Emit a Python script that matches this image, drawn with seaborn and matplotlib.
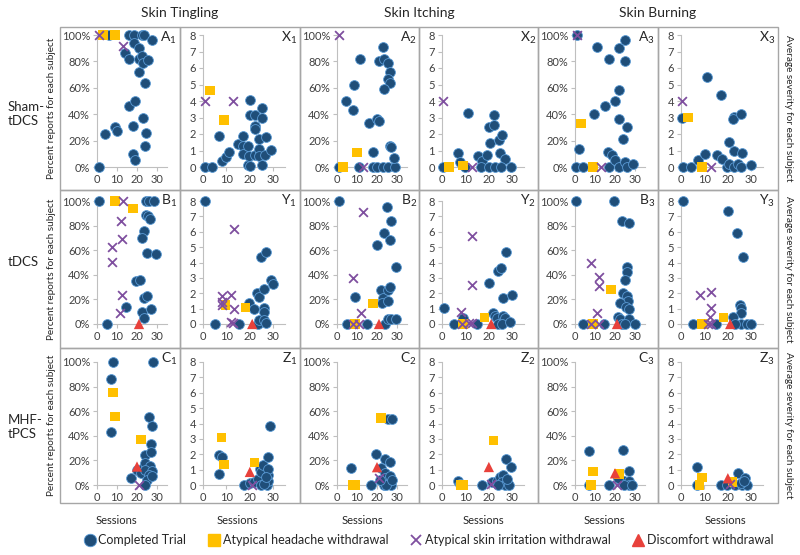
import numpy as np
import pandas as pd
import seaborn as sns
import matplotlib.pyplot as plt
from matplotlib.patches import Rectangle
from matplotlib.lines import Line2D

# values: (session, value) per subject
# A/B/C = percent reports, X/Y/Z = average severity
A1_done = [(1, 0), (4, 25), (6, 100), (9, 30), (10, 27), (14, 86), (16, 82), (16, 46), (16, 100),
           (18.6, 100), (18.6, 94), (18, 31), (18, 10), (19, 5), (19, 50), (21, 90), (21, 82), (21, 72),
           (22.5, 100), (23.5, 100), (22.6, 84), (23, 79), (23, 37), (24, 64), (24, 16), (24.6, 26),
           (25.7, 81), (27.6, 96)]
A1_head = [(3, 100), (9, 100)]
A1_skin = [(1, 100), (13, 92)]
A1_disc = []

X1_done = [(1, 0), (4, 0), (7, 1.85), (8, 0.35), (10, 0.6), (11, 0.9), (15, 1.4), (17, 1.9), (17, 1.25),
           (17, 0.8), (19, 1.25), (19, 0.1), (20, 0.05), (19.8, 0.65), (20, 4.05), (20, 3.15), (22, 3.15),
           (22, 2.5), (22, 2.3), (22, 0.7), (24, 1.7), (24, 1.1), (24, 0.65), (25, 3.55), (25, 2.95),
           (25, 0.1), (26.4, 0.75), (27, 1.8), (29, 1.05)]
X1_head = [(3, 4.65), (9, 2.85)]
X1_skin = [(1, 4), (13, 4)]
X1_disc = []

A2_done = [(1, 0), (11, 0), (18, 0), (20, 0), (23, 0), (25.5, 0), (29, 0), (4.3, 50), (7.8, 43), (8.6, 62),
           (11.7, 82), (16, 33), (19.8, 36.5), (21, 35), (23, 91), (21, 80), (23.3, 82), (25.5, 79),
           (26.4, 72), (25.3, 67), (26.4, 64), (23.3, 59), (18, 11), (26.4, 16), (27.2, 15), (28.3, 7)]
A2_head = [(3, 0), (10, 11)]
A2_skin = [(1, 100), (13, 0)]
A2_disc = []

X2_done = [(0.5, 0), (6.8, 0.85), (7.6, 0.28), (9.7, 0), (11, 3.3), (15.2, 0.65), (17, 0.35), (16.5, 0),
           (19.2, 0.73), (20, 2.4), (20.3, 1.45), (20.2, 0), (22.4, 3.15), (22.4, 2.55), (22.5, 0),
           (24.5, 1.65), (25.7, 1.95), (24.6, 0.85), (26.7, 0.5), (25.3, 0), (29.6, 0)]
X2_head = [(3, 0), (9, 0.1)]
X2_skin = [(0.5, 4), (13, 0)]
X2_disc = []

A3_done = [(1, 100), (0.5, 0), (3.8, 0), (2.2, 14), (9.7, 40), (10.8, 91), (15, 46), (17.2, 82), (16.5, 11),
           (18.5, 9), (17.2, 0), (20, 50), (20, 5.5), (22.2, 58.5), (22, 90), (22.2, 36), (22.2, 0),
           (24.2, 21), (25.2, 96), (25.2, 80), (25.2, 3.5), (26.2, 30), (26.2, 0), (29.2, 2.5)]
A3_head = [(3, 33), (9, 0)]
A3_skin = [(1, 100), (13, 0)]
A3_disc = []

X3_done = [(0.3, 3), (0.7, 0), (4.2, 0), (7.2, 0.45), (10.3, 0.8), (11.3, 5.45), (15.4, 0.73), (17.2, 4.35),
           (17.5, 0.5), (19.7, 0), (20.4, 1.5), (20.4, 0.2), (22.5, 3.05), (22.2, 2.93), (22.5, 0.95),
           (22.5, 0), (24.4, 0.2), (25.4, 3.2), (26.1, 0.85), (25.4, 0), (29.7, 0.1)]
X3_head = [(3, 3), (9, 0)]
X3_skin = [(0.5, 4), (13, 0)]
X3_disc = []

B1_done = [(1, 100), (5, 0), (14.7, 14), (19.4, 35), (21.3, 36), (23.4, 76), (22.7, 70), (24.4, 100),
           (26, 100), (28.6, 100), (24.4, 89), (25.7, 88), (26.5, 85), (25.1, 58), (29.3, 57),
           (23.6, 21.4), (25.1, 23), (22.3, 10), (23.6, 5), (26.9, 12)]
B1_head = [(9, 100), (18, 94)]
B1_skin = [(13, 100), (12.2, 83.5), (12.6, 69), (7.7, 62.7), (7.7, 50.3), (12.6, 23.5), (11.5, 9.2)]
B1_disc = [(21, 0)]

Y1_done = [(1, 8), (5, 0), (15.3, 0), (19.8, 1.35), (21.9, 0.96), (22.9, 2.0), (24, 1.74), (24.8, 4.34),
           (26.9, 4.66), (25.9, 2.27), (23.6, 0), (24, 0.25), (25.9, 1.02), (25.9, 0.8), (26.2, 0.25),
           (26.9, 0.05), (29, 2.88), (30, 2.61)]
Y1_head = [(9.5, 1.24), (18, 1.05)]
Y1_skin = [(8.2, 1.79), (8.2, 1.24), (8.2, 1.45), (12, 1.9), (13.4, 6.15), (13.4, 1.0), (12, 0.15), (13, 0.08)]
Y1_disc = [(21, 0)]

B2_done = [(1, 100), (5, 0), (8.9, 22), (15, 0), (20, 64), (24.8, 95), (22.2, 27.5), (23, 21), (22.7, 17.3),
           (23.8, 0), (25.5, 3.8), (23.5, 74), (26.4, 68.6), (26.9, 84), (25.5, 27.5), (26.4, 29.7),
           (25.5, 19), (29.4, 46), (27.2, 3.8), (29.7, 3.8)]
B2_head = [(9, 0), (18, 16.5)]
B2_skin = [(13, 91), (8, 37), (12, 9), (11, 0), (8, 0)]
B2_disc = [(21, 0)]

Y2_done = [(1, 1.03), (5, 0), (8.9, 0.4), (15, 0), (20, 2.68), (24, 3.43), (25.3, 3.63), (27.3, 4.66),
           (26, 1.67), (30, 1.91), (21.8, 0.7), (22.6, 0.55), (23.3, 0.4), (24, 0), (26.2, 0.55),
           (27, 0.4), (25.6, 0), (29, 0.1)]
Y2_head = [(9, 0), (18, 0.4)]
Y2_skin = [(8, 0.8), (13, 5.7), (13, 2.55), (8.5, 0), (11.4, 0.05), (13, 0.05)]
Y2_disc = [(21, 0)]

B3_done = [(0.5, 100), (4, 0), (14.7, 0), (19.6, 100), (23.3, 84), (27, 82), (25.9, 46.6), (26, 42.5),
           (24.8, 36), (24.2, 25), (26, 23), (26.6, 18.7), (22.6, 17.3), (25.4, 14), (26.9, 12),
           (21.5, 5.7), (22.6, 3.8), (23.7, 0), (26.9, 4.3), (30, 0), (25.1, 0)]
B3_head = [(9, 0), (18, 28)]
B3_skin = [(8, 50), (12, 38.5), (12, 31), (11, 8.7), (8, 0), (12, 0)]
B3_disc = [(21, 0)]

Y3_done = [(1, 8), (5, 0), (15, 0), (20, 7.37), (23.7, 5.95), (26.6, 4.37), (25, 1.22), (25.7, 1.05),
           (25.7, 0.74), (22.4, 0.48), (25.8, 0), (23.2, 0), (28.2, 0), (30, 0)]
Y3_head = [(9, 0), (18, 0.44)]
Y3_skin = [(8, 1.86), (12.9, 2.05), (12.9, 1.03), (12.2, 0.48), (11.4, 0), (12.9, 0)]
Y3_disc = [(21, 0)]

C1_done = [(8, 100), (28, 100), (7, 86), (7, 43), (17, 6), (20, 12), (23, 14), (22, 10), (24, 24.7), (26, 55),
           (27.5, 48), (27.2, 33.4), (27, 26.6), (24.2, 18), (26.7, 15.2), (24.2, 12.5), (27.5, 11.7),
           (25.8, 8), (25, 4.3), (24, 0), (27.5, 7)]
C1_head = [(8, 75), (9, 56), (22, 37)]
C1_skin = [(21, 0)]
C1_disc = [(20, 15)]

Z1_done = [(7, 1.97), (8.3, 1.84), (7, 0.69), (17.4, 0), (20.2, 0.13), (21.9, 0.18), (23.5, 0.4), (24.2, 1.06),
           (24.8, 0.84), (25.5, 1.28), (24.8, 0), (27.4, 0), (27.7, 0.29), (27.8, 0.62), (27.8, 1.06),
           (27.7, 1.8), (28.7, 3.83), (26.1, 0.07), (26.8, 0.5)]
Z1_head = [(8, 3.1), (9, 1.33), (22, 1.46)]
Z1_skin = [(21, 0)]
Z1_disc = [(20, 0.85)]

C2_done = [(7, 14), (17, 0), (19.5, 25.5), (25.5, 54), (27.5, 53.7), (23.8, 20.8), (26.7, 18.6), (22.2, 14),
           (24.2, 10), (23.8, 5.8), (26.7, 7.7), (27, 0), (23.3, 0), (24.7, 0), (21.7, 4.4), (27.5, 3.8)]
C2_head = [(8, 0), (9, 0), (22, 54.5)]
C2_skin = [(21, 6)]
C2_disc = [(20, 14.5)]

Z2_done = [(7, 0.29), (7.5, 0.07), (17, 0), (21.4, 0.2), (23.4, 0.29), (24.8, 0.55), (26, 0.62), (27.5, 1.72),
           (29.5, 1.17), (25.4, 0.18), (26.8, 0), (28.8, 0), (27.8, 0.4), (24, 0)]
Z2_head = [(8, 0), (9, 0), (22, 2.9)]
Z2_skin = [(21, 0.05)]
Z2_disc = [(20, 1.17)]

C3_done = [(7, 28), (7, 0), (17, 0), (23.9, 28.5), (26.9, 11), (22.8, 4), (24.7, 3.3), (26.9, 3.3),
           (27.2, 0), (24.7, 0), (21.7, 5.4), (28.3, 0)]
C3_head = [(9, 11), (8, 0), (22, 9)]
C3_skin = [(21, 0)]
C3_disc = [(20, 9.5)]

Z3_done = [(7, 1.14), (7, 0), (17, 0), (19.7, 0), (24.5, 0.81), (27.4, 0.44), (22.9, 0), (26.1, 0),
           (28.1, 0), (25.5, 0.15), (26.8, 0.26)]
Z3_head = [(9, 0.48), (8, 0), (22, 0.2)]
Z3_skin = [(21, 0.05)]
Z3_disc = [(20, 0.44)]

symptoms = ["Skin Tingling", "Skin Itching", "Skin Burning"]
conditions = ["Sham-\ntDCS", "tDCS", "MHF-\ntPCS"]
series_names = ["Completed Trial", "Atypical headache withdrawal",
                "Atypical skin irritation withdrawal", "Discomfort withdrawal"]
pct_ticks = [0, 20, 40, 60, 80, 100]
sev_ticks = [0, 1, 2, 3, 4, 5, 6, 7, 8]
x_ticks = [0, 10, 20, 30]

panel_grid = [["A1", "X1", "A2", "X2", "A3", "X3"],
              ["B1", "Y1", "B2", "Y2", "B3", "Y3"],
              ["C1", "Z1", "C2", "Z2", "C3", "Z3"]]

# style of each series, in Excel drawing order
styles = [
    dict(marker="o", color="#1f4e79", edgecolor="#5b9bd5", linewidth=0.6, s=50),
    dict(marker="s", color="#ffc000", edgecolor="none", s=44),
    dict(marker="x", color="#7f4f9f", linewidth=1.3, s=40),
    dict(marker="^", color="#e8413b", edgecolor="none", s=55),
]

sns.set_theme(style="white")
plt.rcParams["font.family"] = ["Lato", "DejaVu Sans"]

W, H = 800, 555
fig = plt.figure(figsize=(8, 5.55), dpi=100)


def fx(x):
    return x / W


def fy(y):
    return 1 - y / H


col_x = [60, 180, 300, 419, 538, 658, 778]
row_y = [27, 190, 348, 503]
axis_y = [(35, 167), (201, 324), (362, 485)]
grid_col = "#a6a6a6"
spine_col = "#bfbfbf"

for r in range(3):
    for c in range(6):
        name = panel_grid[r][c]
        pct = (c % 2 == 0)
        left = col_x[c] + (37 if pct else 23)
        width = 70 if pct else 82
        top, bottom = axis_y[r]
        ax = fig.add_axes([fx(left), fy(bottom), width / W, (bottom - top) / H])
        ax.set_facecolor("none")

        data = [globals()[name + "_done"], globals()[name + "_head"],
                globals()[name + "_skin"], globals()[name + "_disc"]]
        for pts, st in zip(data, styles):
            if not pts:
                continue
            df = pd.DataFrame(pts, columns=["session", "value"])
            sns.scatterplot(data=df, x="session", y="value", ax=ax, legend=False,
                            clip_on=False, zorder=3, **st)

        ax.set_xlim(0, 35)
        ax.set_xticks(x_ticks)
        if pct:
            ax.set_ylim(0, 100)
            ax.set_yticks(pct_ticks)
            ax.set_yticklabels([f"{v}%" for v in pct_ticks])
        else:
            ax.set_ylim(0, 8)
            ax.set_yticks(sev_ticks)
        ax.set_xlabel("")
        ax.set_ylabel("")
        for side in ["top", "right"]:
            ax.spines[side].set_visible(False)
        for side in ["left", "bottom"]:
            ax.spines[side].set_color(spine_col)
            ax.spines[side].set_linewidth(0.8)
        ax.tick_params(axis="both", which="major", direction="out", length=3, width=0.8,
                       color=spine_col, labelsize=8, labelcolor="#404040",
                       bottom=True, left=True, pad=2)

        # panel frame and label
        fig.add_artist(Rectangle((fx(col_x[c]), fy(row_y[r + 1])),
                                 (col_x[c + 1] - col_x[c]) / W, (row_y[r + 1] - row_y[r]) / H,
                                 transform=fig.transFigure, fill=False,
                                 edgecolor=grid_col, linewidth=1.0))
        fig.text(fx(col_x[c] + 117), fy(row_y[r] + 3),
                 r"$\mathregular{%s_%s}$" % (name[0], name[1]),
                 ha="right", va="top", fontsize=10, color="#262626")

# column titles
for i, title in enumerate(symptoms):
    fig.text(fx(col_x[2 * i + 1]), fy(13), title, ha="center", va="center", fontsize=10)

# row labels and side axis titles
row_label_y = [114, 262, 427]
for r in range(3):
    fig.text(fx(8), fy(row_label_y[r]), conditions[r], ha="left", va="center",
             fontsize=9.5, linespacing=1.25)
    mid = (row_y[r] + row_y[r + 1]) / 2
    fig.text(fx(52), fy(mid), "Percent reports for each subject", rotation=90,
             ha="center", va="center", fontsize=7.2, color="#262626")
    fig.text(fx(788), fy(mid), "Average severity for each subject", rotation=270,
             ha="center", va="center", fontsize=7.2, color="#262626")

sessions_x = [116, 237, 362, 483, 604, 725]
for sx in sessions_x:
    fig.text(fx(sx), fy(520), "Sessions", ha="center", va="center", fontsize=8, color="#262626")

handles = [
    Line2D([], [], ls="", marker="o", markersize=9, color="#1f4e79", markeredgecolor="#5b9bd5", markeredgewidth=0.6),
    Line2D([], [], ls="", marker="s", markersize=8, color="#ffc000"),
    Line2D([], [], ls="", marker="x", markersize=7.5, color="#7f4f9f", markeredgewidth=1.3),
    Line2D([], [], ls="", marker="^", markersize=8.5, color="#e8413b"),
]
fig.legend(handles, series_names, loc="center", bbox_to_anchor=(fx(429), fy(540)), ncol=4,
           frameon=False, fontsize=9, handlelength=0.8, handletextpad=0.3, columnspacing=1.8,
           borderaxespad=0)

fig.savefig("out.png", dpi=100)
